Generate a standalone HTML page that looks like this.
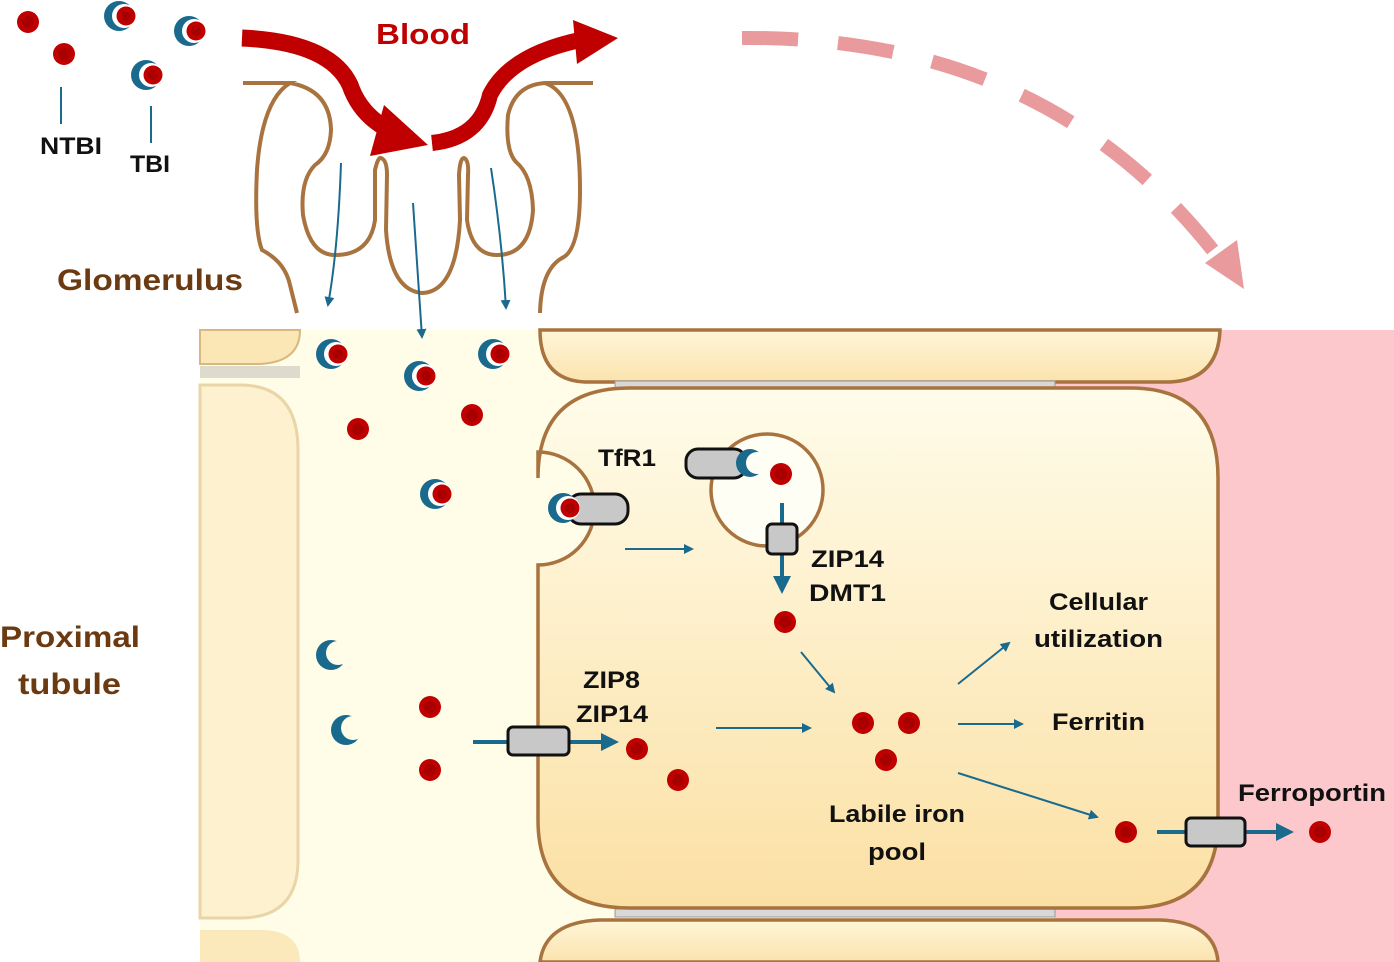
<!DOCTYPE html>
<html><head><meta charset="utf-8"><style>
html,body{margin:0;padding:0;background:#fff}
svg{display:block}
text{font-family:"Liberation Sans",sans-serif;font-weight:bold}
</style></head><body>
<svg width="1394" height="962" viewBox="0 0 1394 962" xmlns="http://www.w3.org/2000/svg">
<defs>
<linearGradient id="cell" x1="0" y1="0" x2="0" y2="1">
<stop offset="0" stop-color="#fffcea"/><stop offset="1" stop-color="#fbe0a4"/></linearGradient>
<linearGradient id="cellh" x1="0" y1="0" x2="0" y2="1">
<stop offset="0" stop-color="#fff6d8"/><stop offset="1" stop-color="#fbe3ae"/></linearGradient>
<g id="tbi"><circle r="15" fill="#1a6a8e"/><circle cx="5" r="12" fill="#fff"/><circle cx="7" r="9.5" fill="#c00000"/><circle cx="7" r="5" fill="#a80000"/></g>
<g id="apo"><circle r="15" fill="#1a6a8e"/><circle cx="7" cy="-2" r="12" fill="#fffde8"/></g>
<g id="fe"><circle r="11" fill="#c00000"/><circle r="6" fill="#a80000"/></g>
<marker id="ah" markerWidth="10" markerHeight="10" refX="8" refY="5" orient="auto" markerUnits="userSpaceOnUse"><path d="M0,0 L10,5 L0,10 Z" fill="#1a6a8e"/></marker>
<marker id="ah2" markerWidth="18" markerHeight="18" refX="14" refY="9" orient="auto" markerUnits="userSpaceOnUse"><path d="M0,0 L18,9 L0,18 Z" fill="#1a6a8e"/></marker>
</defs>

<!-- pink interstitium -->
<rect x="1055" y="330" width="339" height="632" fill="#fcc8cc"/>
<!-- lumen -->
<rect x="200" y="330" width="420" height="632" fill="#fffde8"/>
<!-- left cells -->
<path d="M200,330 H300 Q300,362 260,364 H200 Z" fill="#fbe6b5" stroke="#d8b880" stroke-width="2"/>
<rect x="200" y="366" width="100" height="12" fill="#9a9a9a" opacity="0.35"/>
<path d="M200,385 H240 Q298,385 298,450 V860 Q298,918 240,918 H200 Z" fill="#fdf1d0" stroke="#ead5a8" stroke-width="3"/>
<path d="M200,930 H260 Q300,930 300,962 H200 Z" fill="#fbe8bb"/>

<!-- top cell -->
<path d="M540,330 H1220 Q1218,380 1170,382 H585 Q540,380 540,330 Z" fill="url(#cellh)" stroke="#a8733e" stroke-width="3.5"/>
<!-- junction lines -->
<rect x="615" y="381" width="440" height="7" fill="#d8d8d8" stroke="#999" stroke-width="1"/>
<rect x="615" y="909" width="440" height="8" fill="#d8d8d8" stroke="#999" stroke-width="1"/>
<!-- bottom cell -->
<path d="M540,962 Q545,922 600,920 H1160 Q1215,922 1218,962 Z" fill="url(#cellh)" stroke="#a8733e" stroke-width="3.5"/>

<!-- main cell with notch -->
<path d="M630,388 H1130 Q1218,388 1218,478 V820 Q1218,908 1130,908 H630 Q538,908 538,820 V565 A56,56 0 0 0 538,452 V478 Q538,388 630,388 Z" fill="url(#cell)" stroke="#a8733e" stroke-width="3.5"/>
<!-- vesicle -->
<circle cx="767" cy="490" r="56" fill="#fffef4" stroke="#a8733e" stroke-width="3.5"/>

<!-- glomerulus -->
<path d="M243,83 H290 Q262,100 257,170 Q254,230 262,250 Q285,262 290,285 L297,313 M290,83 Q330,90 331,130 Q330,155 315,165 Q300,180 303,215 Q310,255 335,255 Q370,255 375,220 L375,170 Q378,157 381,158 Q387,160 387,175 L386,230 Q390,290 422,293 Q456,292 460,220 L459,175 Q460,158 464,158 Q469,160 468,175 L467,220 Q472,255 497,255 Q530,255 533,210 Q532,175 516,162 Q505,150 508,115 Q515,85 545,83 H593 M545,83 Q580,95 580,190 Q580,250 562,258 Q541,270 540,313" fill="none" stroke="#a8733e" stroke-width="4"/>

<!-- blood arrow -->
<path d="M242,38 Q330,42 350,85 Q362,120 400,135" fill="none" stroke="#c00000" stroke-width="17"/>
<path d="M370,156 L384,105 L428,145 Z" fill="#c00000"/>
<path d="M432,143 Q480,138 490,95 Q510,55 580,40" fill="none" stroke="#c00000" stroke-width="16"/>
<path d="M573,20 L618,38 L577,64 Z" fill="#c00000"/>
<text x="376" y="44" font-size="29" fill="#c00000" textLength="94" lengthAdjust="spacingAndGlyphs">Blood</text>

<!-- dashed pink -->
<path d="M742,38 Q1050,35 1222,262" fill="none" stroke="#e89a9c" stroke-width="14" stroke-dasharray="56,40"/>
<path d="M1244,289 L1237,240 L1205,263 Z" fill="#e89a9c"/>

<!-- filtration arrows -->
<path d="M341,163 Q338,250 328,305" fill="none" stroke="#1a6a8e" stroke-width="2" marker-end="url(#ah)"/>
<path d="M413,203 Q418,280 422,337" fill="none" stroke="#1a6a8e" stroke-width="2" marker-end="url(#ah)"/>
<path d="M491,168 Q502,240 506,308" fill="none" stroke="#1a6a8e" stroke-width="2" marker-end="url(#ah)"/>

<!-- legend -->
<use href="#fe" x="28" y="22"/>
<use href="#fe" x="64" y="54"/>
<use href="#tbi" x="119" y="16"/>
<use href="#tbi" x="189" y="31"/>
<use href="#tbi" x="146" y="75"/>
<line x1="61" y1="87" x2="61" y2="124" stroke="#1a6a8e" stroke-width="2"/>
<line x1="151" y1="106" x2="151" y2="143" stroke="#1a6a8e" stroke-width="2"/>
<text x="40" y="154" font-size="24" fill="#111" textLength="62" lengthAdjust="spacingAndGlyphs">NTBI</text>
<text x="130" y="172" font-size="24" fill="#111" textLength="40" lengthAdjust="spacingAndGlyphs">TBI</text>
<text x="57" y="290" font-size="30" fill="#6b3a10" textLength="186" lengthAdjust="spacingAndGlyphs">Glomerulus</text>
<text x="0" y="647" font-size="30" fill="#6b3a10" textLength="140" lengthAdjust="spacingAndGlyphs">Proximal</text>
<text x="18" y="694" font-size="30" fill="#6b3a10" textLength="103" lengthAdjust="spacingAndGlyphs">tubule</text>

<!-- lumen contents -->
<use href="#tbi" x="331" y="354"/>
<use href="#tbi" x="419" y="376"/>
<use href="#tbi" x="493" y="354"/>
<use href="#fe" x="358" y="429"/>
<use href="#fe" x="472" y="415"/>
<use href="#tbi" x="435" y="494"/>
<use href="#apo" x="331" y="655"/>
<use href="#apo" x="346" y="730"/>
<use href="#fe" x="430" y="707"/>
<use href="#fe" x="430" y="770"/>

<!-- TfR1 at membrane -->
<rect x="568" y="494" width="60" height="30" rx="13" fill="#c8c8c8" stroke="#111" stroke-width="3"/>
<use href="#tbi" x="563" y="508"/>
<text x="598" y="466" font-size="24" fill="#111" textLength="58" lengthAdjust="spacingAndGlyphs">TfR1</text>
<line x1="625" y1="549" x2="692" y2="549" stroke="#1a6a8e" stroke-width="2" marker-end="url(#ah)"/>

<!-- vesicle TfR1 -->
<rect x="686" y="449" width="60" height="29" rx="12" fill="#c8c8c8" stroke="#111" stroke-width="3"/>
<circle cx="750" cy="463" r="14" fill="#1a6a8e"/><circle cx="757" cy="463" r="11" fill="#fffef4"/>
<use href="#fe" x="781" y="474"/>
<line x1="782" y1="503" x2="782" y2="590" stroke="#1a6a8e" stroke-width="4" marker-end="url(#ah2)"/>
<rect x="767" y="524" width="30" height="30" rx="5" fill="#c8c8c8" stroke="#111" stroke-width="3"/>
<text x="811" y="567" font-size="24" fill="#111" textLength="73" lengthAdjust="spacingAndGlyphs">ZIP14</text>
<text x="809" y="601" font-size="24" fill="#111" textLength="77" lengthAdjust="spacingAndGlyphs">DMT1</text>
<use href="#fe" x="785" y="622"/>
<line x1="801" y1="652" x2="834" y2="692" stroke="#1a6a8e" stroke-width="2" marker-end="url(#ah)"/>

<!-- ZIP8 ZIP14 -->
<line x1="473" y1="742" x2="615" y2="742" stroke="#1a6a8e" stroke-width="4" marker-end="url(#ah2)"/>
<rect x="508" y="727" width="61" height="28" rx="5" fill="#c8c8c8" stroke="#111" stroke-width="3"/>
<text x="583" y="688" font-size="24" fill="#111" textLength="57" lengthAdjust="spacingAndGlyphs">ZIP8</text>
<text x="576" y="722" font-size="24" fill="#111" textLength="72" lengthAdjust="spacingAndGlyphs">ZIP14</text>
<use href="#fe" x="637" y="749"/>
<use href="#fe" x="678" y="780"/>
<line x1="716" y1="728" x2="810" y2="728" stroke="#1a6a8e" stroke-width="2" marker-end="url(#ah)"/>

<!-- labile pool -->
<use href="#fe" x="863" y="723"/>
<use href="#fe" x="909" y="723"/>
<use href="#fe" x="886" y="760"/>
<text x="829" y="822" font-size="24" fill="#111" textLength="136" lengthAdjust="spacingAndGlyphs">Labile iron</text>
<text x="868" y="860" font-size="24" fill="#111" textLength="58" lengthAdjust="spacingAndGlyphs">pool</text>
<line x1="958" y1="684" x2="1009" y2="643" stroke="#1a6a8e" stroke-width="2" marker-end="url(#ah)"/>
<line x1="958" y1="724" x2="1022" y2="724" stroke="#1a6a8e" stroke-width="2" marker-end="url(#ah)"/>
<line x1="958" y1="773" x2="1097" y2="817" stroke="#1a6a8e" stroke-width="2" marker-end="url(#ah)"/>
<text x="1049" y="610" font-size="24" fill="#111" textLength="99" lengthAdjust="spacingAndGlyphs">Cellular</text>
<text x="1034" y="647" font-size="24" fill="#111" textLength="129" lengthAdjust="spacingAndGlyphs">utilization</text>
<text x="1052" y="730" font-size="24" fill="#111" textLength="93" lengthAdjust="spacingAndGlyphs">Ferritin</text>

<!-- ferroportin -->
<use href="#fe" x="1126" y="832"/>
<line x1="1157" y1="832" x2="1290" y2="832" stroke="#1a6a8e" stroke-width="4" marker-end="url(#ah2)"/>
<rect x="1186" y="818" width="59" height="28" rx="5" fill="#c8c8c8" stroke="#111" stroke-width="3"/>
<text x="1238" y="801" font-size="24" fill="#111" textLength="148" lengthAdjust="spacingAndGlyphs">Ferroportin</text>
<use href="#fe" x="1320" y="832"/>
</svg>
</body></html>
